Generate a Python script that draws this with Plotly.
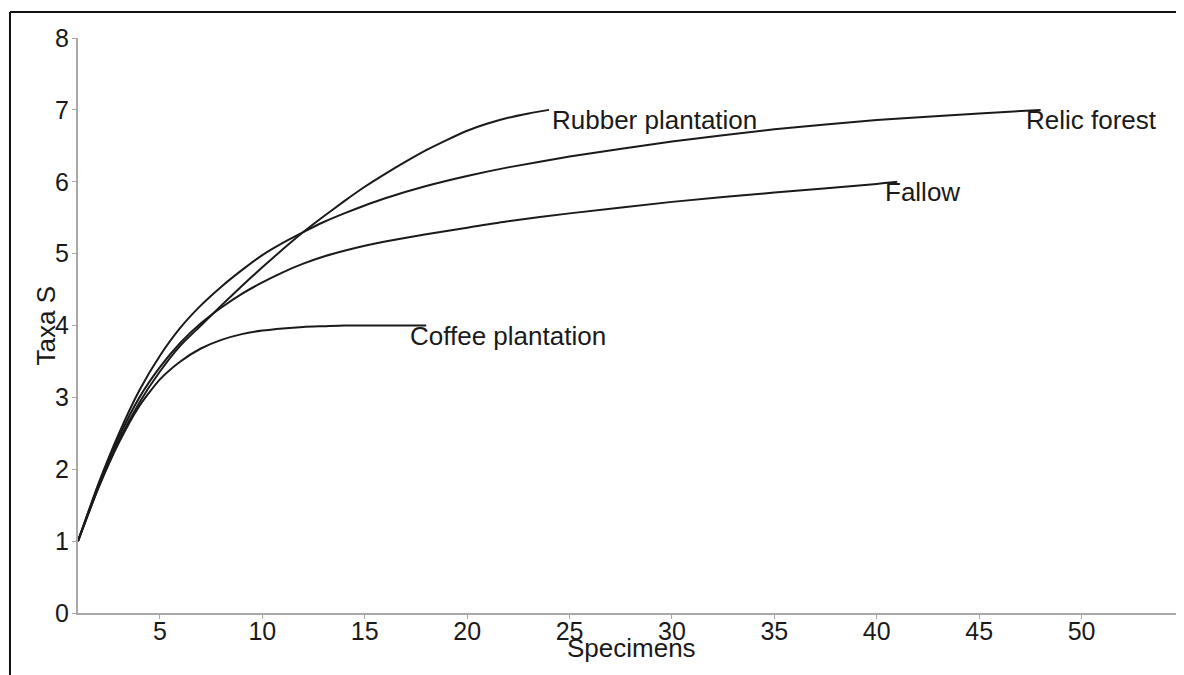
import plotly.graph_objects as go

# Rarefaction curves: number of specimens vs expected taxa S
relic_n = [1, 2, 3, 4, 5, 6, 7, 8, 9, 10, 11, 12, 13, 14, 15, 16, 18, 20, 22, 25, 30, 35, 40, 45, 48]
relic_s = [1, 1.8, 2.5, 3.1, 3.58, 3.97, 4.28, 4.54, 4.77, 4.98, 5.15, 5.3, 5.44, 5.56, 5.67, 5.77, 5.94, 6.08, 6.2, 6.35, 6.56, 6.73, 6.86, 6.95, 7.0]

rubber_n = [1, 2, 3, 4, 5, 6, 7, 8, 9, 10, 11, 12, 13, 14, 15, 16, 17, 18, 19, 20, 21, 22, 23, 24]
rubber_s = [1, 1.75, 2.4, 2.93, 3.36, 3.72, 4.0, 4.28, 4.55, 4.81, 5.06, 5.3, 5.52, 5.73, 5.93, 6.11, 6.28, 6.44, 6.58, 6.71, 6.81, 6.89, 6.95, 7.0]

fallow_n = [1, 2, 3, 4, 5, 6, 7, 8, 9, 10, 11, 12, 13, 14, 15, 16, 18, 20, 22, 25, 30, 35, 40, 41]
fallow_s = [1, 1.78, 2.45, 3.0, 3.42, 3.76, 4.03, 4.25, 4.44, 4.6, 4.74, 4.86, 4.96, 5.04, 5.11, 5.17, 5.27, 5.36, 5.45, 5.56, 5.72, 5.85, 5.97, 6.0]

coffee_n = [1, 2, 3, 4, 5, 6, 7, 8, 9, 10, 11, 12, 13, 14, 15, 16, 17, 18]
coffee_s = [1, 1.74, 2.37, 2.88, 3.25, 3.5, 3.68, 3.8, 3.88, 3.93, 3.96, 3.98, 3.99, 4.0, 4.0, 4.0, 4.0, 4.0]

series = [
    ("Rubber plantation", rubber_n, rubber_s, 1),
    ("Relic forest", relic_n, relic_s, -17),
    ("Fallow", fallow_n, fallow_s, -14),
    ("Coffee plantation", coffee_n, coffee_s, -18),
]

x_ticks = [5, 10, 15, 20, 25, 30, 35, 40, 45, 50]
y_ticks = [0, 1, 2, 3, 4, 5, 6, 7, 8]

FONT = "Liberation Sans, Arial, sans-serif"
INK = "#1a1a1a"
AXIS = "#a8a8a8"

fig = go.Figure()
annotations = []
for name, xs, ys, xs_shift in series:
    fig.add_trace(go.Scatter(
        x=xs, y=ys, mode="lines", name=name,
        line=dict(color=INK, width=2, shape="spline", smoothing=0.6),
        hoverinfo="x+y+name",
    ))
    annotations.append(dict(
        x=xs[-1], y=ys[-1], xref="x", yref="y", text=name,
        showarrow=False, xanchor="left", yanchor="middle",
        xshift=xs_shift, yshift=-10,
        font=dict(family=FONT, size=26, color=INK),
    ))

# axis titles
annotations.append(dict(
    x=0.5, y=-0.061, xref="paper", yref="paper", text="Specimens",
    showarrow=False, xanchor="center", yanchor="middle",
    font=dict(family=FONT, size=26, color=INK),
))
annotations.append(dict(
    x=-0.029, y=0.5, xref="paper", yref="paper", text="Taxa S",
    showarrow=False, xanchor="center", yanchor="middle", textangle=-90,
    font=dict(family=FONT, size=26, color=INK),
))

# The page body has an 8px margin, so the figure is 8px smaller on each side
fig.update_layout(
    width=1176, height=667,
    margin=dict(l=70, r=0, t=30, b=62, pad=0),
    paper_bgcolor="white", plot_bgcolor="white",
    showlegend=False,
    annotations=annotations,
    shapes=[
        dict(type="line", xref="paper", yref="paper",
             x0=-0.0615, y0=1.0452, x1=1.0, y1=1.0452,
             line=dict(color="#111111", width=2)),
        dict(type="line", xref="paper", yref="paper",
             x0=-0.0615, y0=1.0452, x1=-0.0615, y1=-0.11,
             line=dict(color="#111111", width=2)),
    ],
)

fig.update_xaxes(
    range=[1, 55], tickmode="array", tickvals=x_ticks,
    showline=True, linecolor=AXIS, linewidth=2,
    ticks="outside", ticklen=4, tickcolor=AXIS, tickwidth=1,
    showgrid=False, zeroline=False, ticklabelstandoff=-9,
    tickfont=dict(family=FONT, size=25, color=INK),
)
fig.update_yaxes(
    range=[0, 8], tickmode="array", tickvals=y_ticks,
    showline=True, linecolor=AXIS, linewidth=2,
    ticks="outside", ticklen=4, tickcolor=AXIS, tickwidth=1,
    showgrid=False, zeroline=False, ticklabelstandoff=-2,
    tickfont=dict(family=FONT, size=25, color=INK),
)

fig.write_html("out.html")
